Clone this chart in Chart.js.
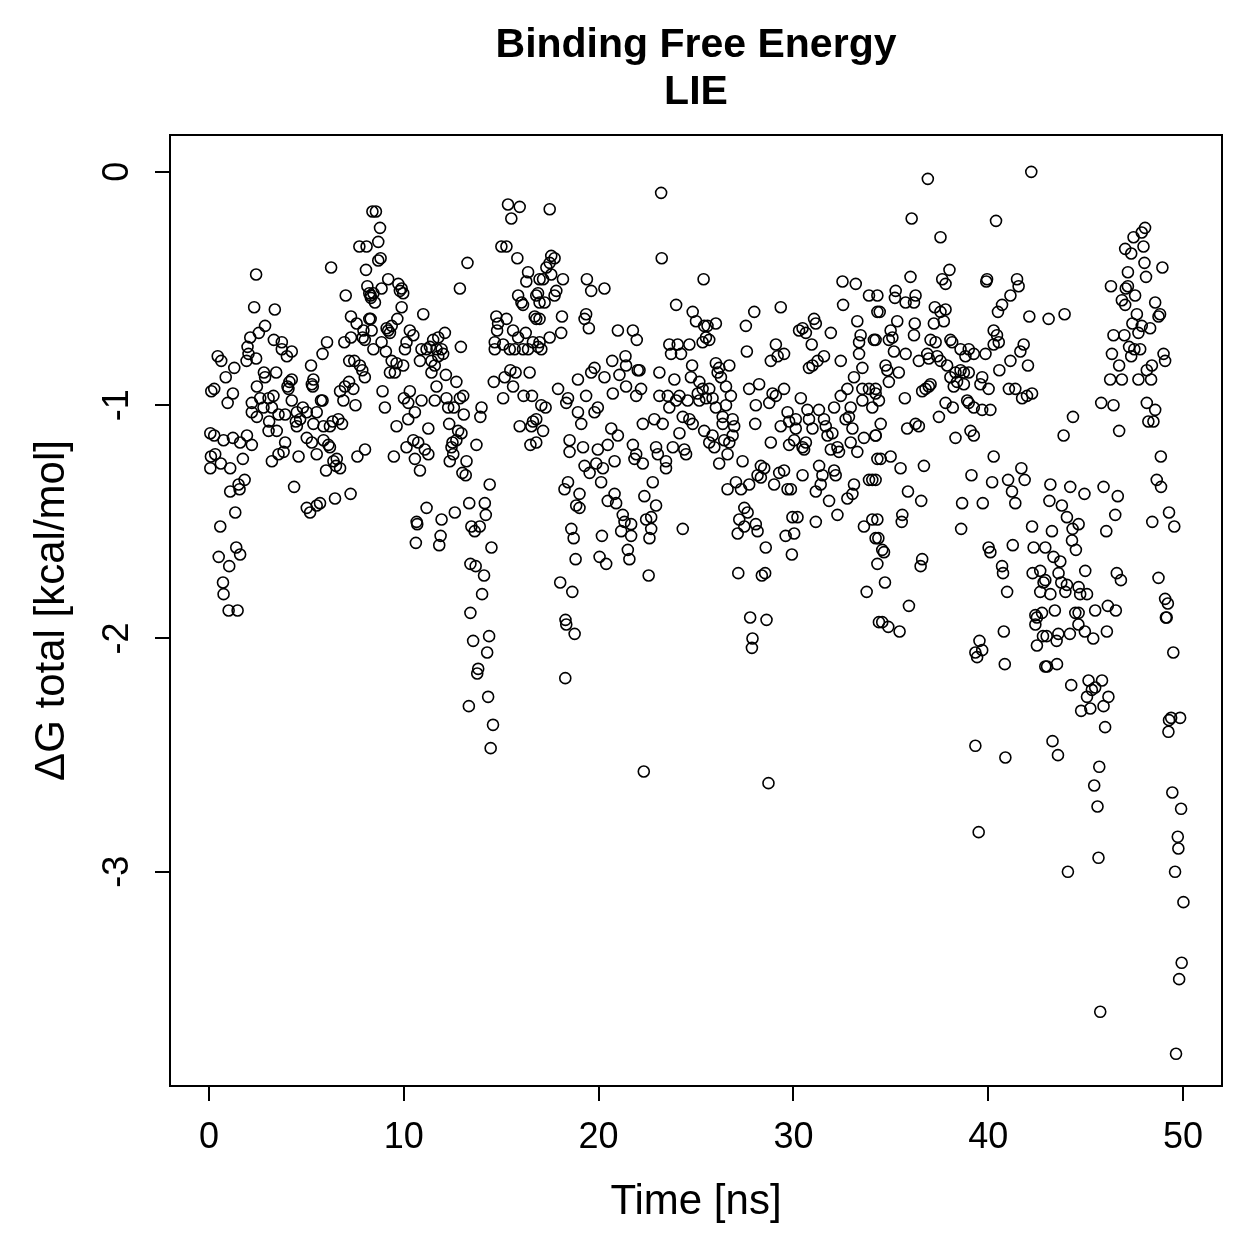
<!DOCTYPE html>
<html>
<head>
<meta charset="utf-8">
<script src="https://cdn.jsdelivr.net/npm/chart.js@4.4.1/dist/chart.umd.min.js"></script>
<style>
  html, body { margin: 0; padding: 0; background: #fff; }
  canvas { display: block; }
</style>
</head>
<body>
<canvas id="lie" width="1259" height="1259"></canvas>
<script>
  // LIE dG total per frame as [time ns, dG kcal/mol]
  const lie_0_8 = [[2.42,-0.44],[6.27,-0.41],[7.72,-0.32],[8.09,-0.32],[8.06,-0.42],[7.02,-0.53],[8.13,-0.49],[8.23,-0.52],[8.31,-0.54],[2.32,-0.58],[3.38,-0.59],[7.29,-0.62],[7.58,-0.65],[7.93,-0.68],[8.23,-0.63],[2.88,-0.66],[2.56,-0.69],[2.12,-0.71],[3.33,-0.72],[3.74,-0.73],[6.06,-0.73],[5.83,-0.78],[6.95,-0.73],[7.29,-0.71],[7.89,-0.71],[8.0,-0.72],[1.98,-0.75],[2.03,-0.78],[2.42,-0.8],[1.93,-0.81],[0.45,-0.79],[0.63,-0.81],[1.3,-0.84],[0.86,-0.88],[3.74,-0.76],[4.25,-0.77],[4.0,-0.79],[5.24,-0.83],[7.2,-0.81],[7.46,-0.81],[7.75,-0.83],[7.87,-0.85],[8.0,-0.88],[2.82,-0.86],[2.88,-0.88],[3.45,-0.86],[2.46,-0.92],[4.25,-0.89],[4.13,-0.9],[4.03,-0.92],[4.08,-0.93],[5.36,-0.89],[5.28,-0.91],[5.33,-0.92],[6.73,-0.94],[6.98,-0.92],[7.19,-0.9],[7.41,-0.93],[0.12,-0.94],[0.27,-0.93],[1.23,-0.95],[0.96,-0.99],[7.52,-1.0],[6.9,-0.98],[4.25,-0.98],[5.83,-0.98],[2.2,-0.99],[2.63,-0.97],[3.06,-0.97],[3.31,-0.96],[2.8,-1.01],[3.23,-1.01],[2.2,-1.03],[2.46,-1.05],[3.57,-1.04],[3.91,-1.04],[4.51,-1.03],[4.82,-1.01],[5.02,-1.03],[5.53,-1.03],[5.75,-0.98],[3.09,-1.07],[3.48,-1.11],[3.06,-1.11],[4.46,-1.07],[4.68,-1.06],[4.51,-1.09],[5.36,-1.08],[5.88,-1.09],[6.21,-1.09],[6.35,-1.07],[6.64,-1.06],[6.83,-1.08],[0.07,-1.12],[0.27,-1.13],[0.75,-1.15],[1.23,-1.14],[1.6,-1.16],[1.95,-1.13],[2.2,-1.17],[5.02,-1.14],[5.28,-1.16],[5.53,-1.21],[5.88,-1.15],[6.13,-1.17],[6.21,-1.18],[0.1,-1.22],[0.32,-1.21],[0.61,-1.25],[1.09,-1.27],[1.74,-1.23],[0.07,-1.27],[3.23,-1.24],[3.57,-1.21],[3.83,-1.2],[3.91,-1.16],[4.6,-1.22],[4.37,-1.35],[6.39,-1.24],[6.52,-1.26],[6.73,-1.27],[6.01,-1.28],[6.56,-1.23],[7.62,-1.22],[8.01,-1.19],[1.83,-1.32],[1.52,-1.34],[1.09,-1.37],[1.57,-1.36],[5.02,-1.44],[5.19,-1.46],[5.53,-1.43],[5.7,-1.42],[6.47,-1.4],[7.27,-1.38],[1.35,-1.46],[0.58,-1.52],[1.4,-1.61],[1.6,-1.64],[0.5,-1.65],[1.04,-1.69],[0.72,-1.76],[0.75,-1.81],[1.01,-1.88],[1.47,-1.88]];

  const lie_8_17 = [[8.39,-0.17],[8.57,-0.17],[8.78,-0.24],[8.69,-0.3],[8.81,-0.37],[8.69,-0.38],[9.2,-0.46],[8.44,-0.52],[8.52,-0.56],[8.3,-0.53],[8.86,-0.5],[9.72,-0.48],[9.89,-0.5],[9.97,-0.52],[9.8,-0.51],[9.89,-0.58],[11.0,-0.61],[8.3,-0.63],[8.35,-0.68],[9.67,-0.63],[9.12,-0.67],[9.29,-0.69],[9.2,-0.68],[9.38,-0.66],[10.31,-0.68],[10.49,-0.7],[10.14,-0.73],[10.06,-0.76],[8.44,-0.76],[8.86,-0.73],[9.08,-0.77],[10.91,-0.76],[11.17,-0.76],[11.34,-0.75],[11.51,-0.72],[11.77,-0.71],[12.11,-0.69],[11.68,-0.76],[11.94,-0.76],[12.02,-0.78],[11.77,-0.79],[11.42,-0.81],[12.93,-0.75],[12.88,-0.5],[13.27,-0.39],[9.38,-0.81],[9.63,-0.82],[9.97,-0.83],[9.29,-0.86],[9.54,-0.86],[10.83,-0.81],[11.42,-0.86],[11.59,-0.83],[12.16,-0.87],[12.7,-0.9],[11.68,-0.92],[8.91,-0.94],[9.03,-1.01],[10.01,-0.97],[10.23,-0.99],[10.31,-0.94],[10.91,-0.98],[11.59,-0.98],[12.19,-0.97],[12.28,-1.01],[12.57,-1.01],[13.05,-0.96],[12.88,-0.97],[13.08,-1.04],[13.99,-1.01],[13.93,-1.05],[9.63,-1.09],[10.23,-1.06],[10.57,-1.03],[11.26,-1.1],[12.33,-1.08],[12.79,-1.11],[12.96,-1.12],[12.7,-1.15],[12.5,-1.16],[13.73,-1.17],[9.49,-1.22],[10.14,-1.18],[10.49,-1.15],[10.74,-1.16],[11.08,-1.19],[11.26,-1.21],[10.57,-1.23],[10.83,-1.28],[12.45,-1.18],[12.54,-1.21],[12.36,-1.24],[13.22,-1.24],[13.01,-1.29],[13.18,-1.3],[14.41,-1.34],[11.17,-1.44],[10.66,-1.5],[10.69,-1.51],[11.94,-1.49],[11.89,-1.56],[10.62,-1.59],[11.82,-1.6],[12.62,-1.46],[13.36,-1.42],[14.16,-1.42],[14.21,-1.47],[13.47,-1.52],[13.64,-1.54],[13.9,-1.52],[14.5,-1.61],[13.42,-1.68],[13.69,-1.69],[14.12,-1.73],[14.02,-1.81],[13.42,-1.89],[13.56,-2.01],[14.38,-1.99],[14.28,-2.06],[13.82,-2.13],[13.77,-2.15],[14.33,-2.25],[13.34,-2.29],[14.58,-2.37],[14.46,-2.47],[15.01,-0.32],[15.27,-0.32],[15.35,-0.14],[15.95,-0.15],[15.52,-0.2],[15.83,-0.37],[16.38,-0.43],[16.29,-0.47],[16.97,-0.46],[15.87,-0.53],[16.04,-0.56],[16.12,-0.57],[16.8,-0.53],[16.97,-0.56],[14.75,-0.62],[14.84,-0.65],[14.79,-0.68],[14.67,-0.73],[15.27,-0.63],[15.61,-0.68],[15.87,-0.71],[16.26,-0.69],[16.72,-0.62],[16.97,-0.63],[14.67,-0.76],[15.1,-0.74],[15.44,-0.76],[15.69,-0.76],[16.12,-0.76],[16.38,-0.76],[16.63,-0.73],[16.89,-0.75],[14.62,-0.9],[15.1,-0.97],[15.18,-0.88],[15.47,-0.85],[15.74,-0.86],[15.61,-0.92],[16.15,-0.96],[16.58,-0.96],[16.46,-0.86],[15.95,-1.09],[16.55,-1.09],[16.63,-1.07],[16.5,-1.17],[17.06,-1.0]];

  const lie_17_25 = [[17.49,-0.16],[23.21,-0.09],[23.24,-0.37],[25.39,-0.46],[17.57,-0.36],[17.49,-0.39],[17.74,-0.37],[17.32,-0.41],[17.15,-0.46],[17.57,-0.44],[18.17,-0.46],[17.83,-0.51],[17.74,-0.53],[17.23,-0.56],[16.89,-0.52],[19.4,-0.46],[19.62,-0.51],[20.3,-0.5],[18.12,-0.62],[18.08,-0.69],[17.49,-0.71],[16.97,-0.73],[17.06,-0.76],[16.8,-0.63],[19.36,-0.61],[19.28,-0.63],[19.5,-0.67],[20.99,-0.68],[21.76,-0.68],[21.96,-0.72],[23.98,-0.57],[24.83,-0.6],[25.0,-0.64],[25.42,-0.66],[25.51,-0.71],[25.34,-0.73],[23.63,-0.74],[24.06,-0.74],[24.23,-0.78],[24.66,-0.74],[23.72,-0.78],[20.7,-0.81],[21.38,-0.79],[21.41,-0.83],[22.01,-0.85],[22.1,-0.85],[21.07,-0.87],[19.79,-0.84],[19.62,-0.86],[20.3,-0.88],[18.94,-0.89],[23.12,-0.86],[23.89,-0.89],[24.8,-0.83],[24.74,-0.88],[25.17,-0.9],[25.34,-0.93],[25.09,-0.95],[17.92,-0.93],[18.43,-0.97],[18.34,-0.99],[18.94,-1.03],[19.11,-1.08],[19.36,-0.96],[19.96,-1.01],[19.79,-1.03],[20.73,-0.95],[21.41,-0.92],[21.93,-0.96],[22.18,-0.93],[17.28,-1.01],[16.8,-1.06],[17.15,-1.11],[16.8,-1.16],[23.12,-0.96],[23.55,-0.96],[23.63,-1.01],[23.98,-0.98],[24.15,-0.96],[24.57,-0.98],[25.17,-0.98],[22.27,-1.08],[22.86,-1.06],[23.29,-1.08],[24.15,-1.12],[24.32,-1.05],[24.66,-1.06],[24.83,-1.08],[25.42,-1.11],[25.68,-1.16],[18.51,-1.15],[19.2,-1.18],[18.51,-1.2],[19.96,-1.19],[20.47,-1.17],[20.65,-1.1],[20.99,-1.13],[21.76,-1.17],[21.93,-1.21],[21.84,-1.23],[22.27,-1.25],[22.95,-1.18],[23.04,-1.21],[23.46,-1.24],[23.46,-1.27],[23.81,-1.18],[24.4,-1.19],[24.49,-1.21],[20.82,-1.24],[19.88,-1.25],[20.22,-1.27],[19.28,-1.26],[19.54,-1.29],[20.13,-1.33],[19.02,-1.38],[18.43,-1.33],[18.25,-1.36],[18.85,-1.43],[19.02,-1.44],[20.82,-1.38],[20.47,-1.41],[20.9,-1.42],[21.24,-1.47],[21.33,-1.5],[21.16,-1.54],[21.67,-1.51],[21.67,-1.56],[21.5,-1.62],[21.58,-1.66],[22.78,-1.33],[22.35,-1.39],[22.95,-1.43],[22.44,-1.49],[22.7,-1.48],[22.7,-1.53],[22.61,-1.57],[24.32,-1.53],[18.6,-1.53],[18.72,-1.57],[20.17,-1.56],[20.05,-1.65],[20.39,-1.68],[18.82,-1.66],[22.57,-1.73],[18.03,-1.76],[18.65,-1.8],[18.3,-1.92],[18.34,-1.94],[18.77,-1.98],[18.29,-2.17],[22.32,-2.57]];

  const lie_25_34 = [[32.52,-0.47],[33.2,-0.48],[33.88,-0.53],[32.55,-0.57],[34.31,-0.6],[29.35,-0.58],[27.99,-0.6],[27.56,-0.66],[26.02,-0.65],[25.59,-0.66],[25.68,-0.72],[30.29,-0.68],[30.47,-0.67],[30.64,-0.69],[31.06,-0.63],[31.15,-0.65],[30.94,-0.74],[31.92,-0.69],[33.28,-0.64],[33.45,-0.7],[33.37,-0.73],[34.13,-0.72],[33.37,-0.78],[27.61,-0.77],[29.1,-0.74],[28.84,-0.81],[29.19,-0.79],[29.52,-0.78],[30.8,-0.84],[30.98,-0.83],[31.24,-0.81],[31.57,-0.79],[32.43,-0.81],[33.54,-0.84],[33.11,-0.88],[26.02,-0.82],[26.19,-0.84],[26.11,-0.86],[26.71,-0.83],[26.28,-0.88],[26.54,-0.92],[26.79,-0.96],[25.68,-0.93],[25.51,-0.97],[25.85,-0.97],[26.02,-1.01],[26.54,-1.0],[27.73,-0.93],[28.24,-0.91],[29.52,-0.93],[28.93,-0.95],[29.1,-0.96],[28.76,-0.99],[28.07,-1.0],[30.38,-0.97],[29.7,-1.03],[30.12,-1.06],[30.72,-1.02],[30.8,-1.06],[31.31,-1.02],[31.57,-1.06],[32.09,-1.01],[32.43,-0.96],[32.77,-0.93],[32.94,-1.01],[32.85,-1.05],[32.68,-1.06],[33.54,-0.98],[34.05,-1.01],[33.54,-0.93],[33.88,-0.93],[34.22,-0.95],[26.37,-1.05],[26.88,-1.06],[26.37,-1.08],[26.96,-1.09],[26.88,-1.13],[26.45,-1.15],[26.71,-1.16],[25.85,-1.13],[25.94,-1.18],[26.19,-1.25],[26.62,-1.21],[27.39,-1.24],[28.04,-1.08],[28.84,-1.16],[29.35,-1.09],[29.78,-1.07],[30.12,-1.1],[30.98,-1.1],[31.75,-1.13],[31.66,-1.09],[32.0,-1.12],[29.78,-1.17],[30.04,-1.15],[30.47,-1.18],[30.64,-1.16],[30.55,-1.19],[31.92,-1.19],[32.34,-1.2],[32.26,-1.18],[32.94,-1.16],[33.28,-1.2],[33.03,-1.1],[33.62,-1.14],[34.22,-1.13],[34.31,-1.23],[28.33,-1.26],[28.5,-1.27],[28.16,-1.3],[28.33,-1.31],[29.27,-1.29],[29.52,-1.28],[29.01,-1.34],[29.7,-1.36],[29.87,-1.36],[30.47,-1.3],[31.32,-1.26],[31.49,-1.3],[32.09,-1.28],[32.17,-1.3],[31.4,-1.34],[31.15,-1.37],[31.83,-1.41],[32.77,-1.4],[33.11,-1.34],[33.88,-1.32],[34.05,-1.32],[33.03,-1.38],[26.62,-1.36],[27.05,-1.33],[27.31,-1.36],[27.73,-1.34],[27.48,-1.44],[27.65,-1.46],[27.22,-1.49],[27.14,-1.55],[27.48,-1.52],[28.07,-1.51],[28.16,-1.54],[28.58,-1.61],[29.6,-1.56],[30.04,-1.55],[29.95,-1.48],[30.21,-1.48],[31.15,-1.5],[32.26,-1.47],[33.62,-1.52],[34.05,-1.49],[34.22,-1.57],[29.92,-1.64],[27.17,-1.72],[28.38,-1.73],[28.55,-1.72],[33.76,-1.8],[27.78,-1.91],[28.62,-1.92],[27.9,-2.0],[27.87,-2.04],[28.72,-2.62],[34.39,-1.93],[34.31,-1.68]];

  const lie_34_43 = [[36.9,-0.03],[42.21,0.0],[36.07,-0.2],[40.4,-0.21],[37.55,-0.28],[36.01,-0.45],[38.01,-0.42],[37.64,-0.46],[37.81,-0.48],[39.94,-0.46],[39.9,-0.47],[41.48,-0.46],[41.56,-0.49],[41.14,-0.53],[40.71,-0.57],[40.5,-0.6],[42.11,-0.62],[35.25,-0.51],[35.21,-0.54],[35.76,-0.56],[36.27,-0.53],[36.19,-0.56],[34.43,-0.6],[37.26,-0.58],[37.55,-0.6],[37.81,-0.59],[37.72,-0.64],[37.21,-0.65],[36.23,-0.65],[36.19,-0.7],[35.33,-0.64],[34.99,-0.68],[35.08,-0.71],[34.9,-0.72],[34.22,-0.72],[34.31,-0.53],[37.04,-0.72],[37.3,-0.73],[38.06,-0.72],[38.15,-0.73],[38.58,-0.76],[39.0,-0.76],[39.26,-0.78],[39.86,-0.78],[38.83,-0.79],[40.28,-0.68],[40.45,-0.7],[40.54,-0.73],[40.28,-0.74],[35.16,-0.77],[35.76,-0.78],[36.44,-0.81],[36.87,-0.78],[36.95,-0.8],[37.38,-0.79],[37.55,-0.81],[37.89,-0.83],[34.73,-0.83],[34.82,-0.85],[35.41,-0.86],[34.9,-0.9],[38.06,-0.88],[38.32,-0.86],[38.58,-0.85],[38.75,-0.86],[39.0,-0.86],[38.4,-0.9],[38.75,-0.91],[38.23,-0.92],[39.69,-0.88],[39.6,-0.91],[40.02,-0.93],[41.14,-0.81],[41.65,-0.77],[41.82,-0.74],[42.04,-0.83],[40.57,-0.85],[36.61,-0.94],[36.78,-0.93],[36.95,-0.92],[37.04,-0.91],[35.72,-0.97],[37.47,-1.05],[34.22,-0.93],[34.39,-0.98],[37.81,-0.99],[38.18,-1.01],[38.92,-0.98],[39.0,-0.99],[39.26,-1.01],[39.69,-1.02],[40.11,-1.02],[41.06,-0.93],[41.39,-0.93],[41.74,-0.97],[41.99,-0.96],[42.25,-0.95],[34.48,-1.08],[34.22,-1.13],[35.84,-1.1],[36.27,-1.08],[36.44,-1.09],[38.32,-1.14],[39.09,-1.11],[39.26,-1.13],[34.48,-1.23],[34.99,-1.22],[35.5,-1.27],[36.7,-1.26],[34.22,-1.32],[40.28,-1.22],[39.14,-1.3],[40.2,-1.33],[41.02,-1.32],[41.22,-1.37],[41.39,-1.42],[41.7,-1.27],[41.87,-1.32],[39.72,-1.42],[38.66,-1.42],[35.88,-1.37],[36.56,-1.41],[35.59,-1.47],[35.56,-1.5],[34.31,-1.49],[34.36,-1.57],[38.61,-1.53],[40.02,-1.61],[40.11,-1.63],[41.26,-1.6],[40.71,-1.69],[40.76,-1.72],[40.97,-1.8],[42.25,-1.52],[42.33,-1.61],[42.93,-1.61],[42.28,-1.72],[42.67,-1.71],[42.84,-1.76],[42.67,-1.8],[34.56,-1.62],[34.65,-1.63],[36.61,-1.66],[36.53,-1.69],[34.7,-1.76],[35.93,-1.86],[42.42,-1.9],[42.76,-1.89],[34.56,-1.93],[34.87,-1.95],[35.45,-1.97],[39.55,-2.01],[39.69,-2.05],[39.34,-2.06],[39.43,-2.08],[40.8,-1.97],[40.85,-2.11],[42.5,-1.91],[42.42,-1.94],[42.81,-1.99],[42.5,-2.03],[42.93,-2.12],[39.34,-2.46],[40.88,-2.51],[39.51,-2.83]];

  const lie_43_50 = [[43.92,-0.61],[43.1,-0.63],[44.35,-1.05],[43.87,-1.13],[48.05,-0.24],[47.88,-0.26],[47.46,-0.28],[47.03,-0.33],[47.34,-0.35],[47.97,-0.32],[48.02,-0.39],[48.94,-0.41],[48.1,-0.45],[47.17,-0.43],[46.3,-0.49],[47.06,-0.5],[47.17,-0.49],[47.54,-0.53],[46.86,-0.55],[47.03,-0.57],[48.57,-0.56],[48.82,-0.61],[48.74,-0.62],[47.63,-0.61],[47.4,-0.65],[47.88,-0.66],[48.31,-0.67],[47.71,-0.69],[46.43,-0.7],[46.99,-0.7],[47.23,-0.75],[47.5,-0.76],[47.8,-0.76],[47.34,-0.79],[46.35,-0.78],[46.72,-0.83],[46.26,-0.89],[46.86,-0.89],[47.71,-0.89],[48.36,-0.89],[48.14,-0.85],[48.4,-0.83],[49.0,-0.78],[49.08,-0.81],[45.8,-0.99],[46.43,-1.0],[48.14,-0.99],[48.57,-1.02],[48.22,-1.07],[48.48,-1.07],[46.72,-1.11],[48.86,-1.22],[48.65,-1.32],[48.87,-1.35],[49.28,-1.46],[49.55,-1.52],[48.42,-1.5],[48.74,-1.74],[49.08,-1.83],[49.22,-1.85],[49.12,-1.91],[45.92,-1.35],[46.65,-1.39],[46.52,-1.47],[46.06,-1.54],[46.6,-1.72],[46.81,-1.75],[44.21,-1.35],[44.94,-1.38],[43.19,-1.34],[43.14,-1.41],[43.78,-1.43],[44.04,-1.48],[43.27,-1.54],[44.33,-1.53],[44.64,-1.51],[44.3,-1.58],[44.5,-1.62],[43.35,-1.65],[43.7,-1.67],[44.98,-1.71],[43.61,-1.72],[43.75,-1.76],[44.04,-1.77],[42.93,-1.75],[43.19,-1.81],[43.96,-1.8],[44.64,-1.78],[44.72,-1.81],[45.07,-1.81],[43.42,-1.88],[44.47,-1.89],[44.64,-1.89],[45.49,-1.88],[46.14,-1.86],[46.55,-1.88],[49.16,-1.91],[44.63,-1.94],[44.96,-1.97],[45.39,-2.0],[44.19,-1.98],[43.6,-1.98],[43.51,-2.01],[43.0,-1.99],[46.09,-1.97],[49.5,-2.06],[43.53,-2.11],[43.02,-2.12],[44.26,-2.2],[45.15,-2.18],[45.84,-2.18],[45.49,-2.21],[45.32,-2.22],[45.07,-2.25],[46.17,-2.25],[44.77,-2.31],[45.24,-2.3],[45.92,-2.29],[46.0,-2.38],[49.39,-2.34],[49.85,-2.34],[49.28,-2.35],[49.25,-2.4],[43.3,-2.44],[43.58,-2.5],[45.7,-2.55],[45.44,-2.63],[45.61,-2.72],[45.66,-2.94],[44.09,-3.0],[45.75,-3.6],[49.45,-2.66],[49.9,-2.73],[49.73,-2.85],[49.76,-2.9],[49.59,-3.0],[50.02,-3.13],[49.93,-3.39],[49.8,-3.46],[49.64,-3.78]];

  const xTicks = [0, 10, 20, 30, 40, 50];
  const yTicks = [0, -1, -2, -3];
  const titleLines = ['Binding Free Energy', 'LIE'];
  const xTitle = 'Time [ns]';
  const yTitle = 'ΔG total [kcal/mol]';

  const FONT = '"Liberation Sans", Arial, Helvetica, sans-serif';

  const allPoints = [...lie_0_8, ...lie_8_17, ...lie_17_25, ...lie_25_34, ...lie_34_43, ...lie_43_50]
    .map(p => ({ x: p[0], y: p[1] }));

  // box around the plot region, like R's box()
  const frame = {
    id: 'frame',
    afterDatasetsDraw(chart) {
      const { ctx, chartArea: a } = chart;
      ctx.save();
      ctx.strokeStyle = '#000';
      ctx.lineWidth = 2;
      ctx.strokeRect(a.left, a.top, a.right - a.left, a.bottom - a.top);
      ctx.restore();
    }
  };

  const tickGrid = { display: true, drawOnChartArea: false, drawTicks: true, tickLength: 15, color: '#000', lineWidth: 2 };

  new Chart(document.getElementById('lie'), {
    type: 'scatter',
    data: {
      datasets: [{
        data: allPoints,
        pointStyle: 'circle',
        pointRadius: 5.5,
        pointHoverRadius: 5.5,
        borderColor: '#000',
        borderWidth: 1.6,
        backgroundColor: 'rgba(0,0,0,0)'
      }]
    },
    options: {
      responsive: false,
      animation: false,
      devicePixelRatio: 1,
      layout: { padding: { top: 0, right: 37, bottom: 0, left: 0 } },
      plugins: {
        legend: { display: false },
        tooltip: { enabled: false },
        title: {
          display: true,
          fullSize: false,
          text: titleLines,
          color: '#000',
          font: { family: FONT, size: 41, weight: 'bold', lineHeight: 1.15 },
          padding: { top: 22, bottom: 18.7 }
        }
      },
      scales: {
        x: {
          type: 'linear',
          min: -2,
          max: 52,
          afterBuildTicks: s => { s.ticks = xTicks.map(v => ({ value: v })); },
          afterFit: s => { s.height = 173; },
          ticks: { color: '#000', font: { family: FONT, size: 36 }, padding: 15, maxRotation: 0, autoSkip: false, callback: v => String(v) },
          grid: tickGrid,
          border: { display: false },
          title: { display: true, text: xTitle, color: '#000', font: { family: FONT, size: 42 }, padding: { top: 0, bottom: 31 } }
        },
        y: {
          type: 'linear',
          min: -3.918,
          max: 0.158,
          afterBuildTicks: s => { s.ticks = yTicks.map(v => ({ value: v })); },
          afterFit: s => { s.width = 170; },
          ticks: { color: '#000', font: { family: FONT, size: 36 }, padding: 21, minRotation: 90, maxRotation: 90, crossAlign: 'center', autoSkip: false, callback: v => String(v) },
          grid: tickGrid,
          border: { display: false },
          title: { display: true, text: yTitle, color: '#000', font: { family: FONT, size: 42 }, padding: { top: 27, bottom: 0 } }
        }
      }
    },
    plugins: [frame]
  });
</script>
</body>
</html>
